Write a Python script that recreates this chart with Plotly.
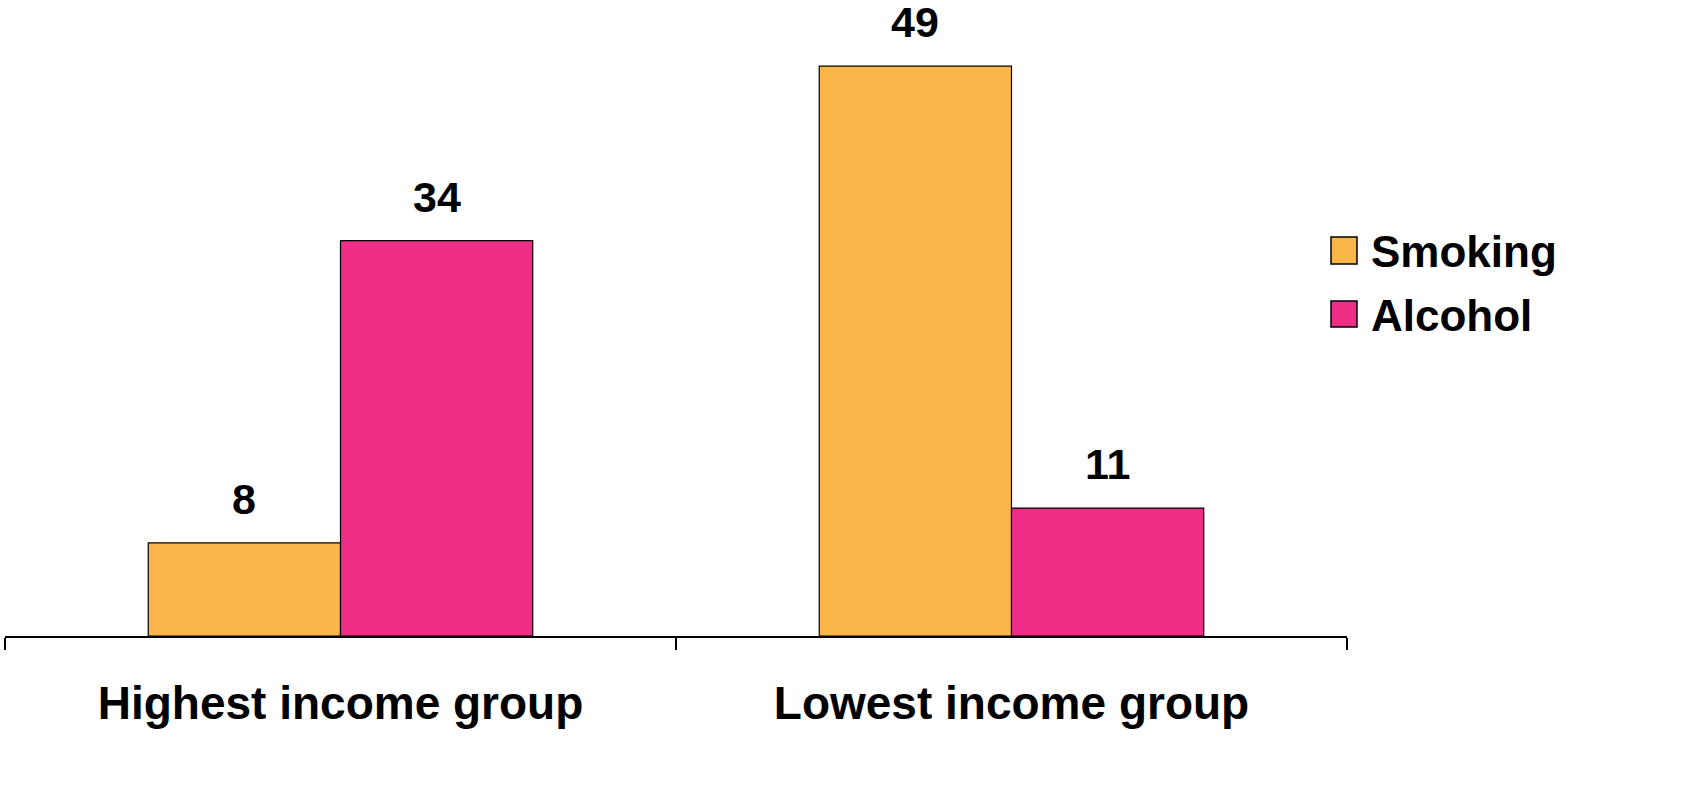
import plotly.graph_objects as go

categories = ["Highest income group", "Lowest income group"]
series_names = ["Smoking", "Alcohol"]
smoking = [8, 49]
alcohol = [34, 11]
colors = ["#FBB64A", "#EE2D87"]

W, H = 1697, 789
L, R, T, B = 5, 350, 20, 153
pw, ph = W - L - R, H - T - B
BARGAP = 0.427
FONT = "Liberation Sans"

fig = go.Figure()
all_vals = [smoking, alcohol]
for name, vals, col in zip(series_names, all_vals, colors):
    fig.add_trace(go.Bar(
        x=categories, y=vals, name=name,
        marker=dict(color=col, line=dict(color="black", width=1.2)),
        showlegend=False, hoverinfo="x+y+name",
    ))

# value labels above bars
cat_px = pw / len(categories)
bar_px = cat_px * (1 - BARGAP) / len(series_names)
for i, vals in enumerate(all_vals):
    off = (i - (len(series_names) - 1) / 2) * bar_px
    for c, v in zip(categories, vals):
        fig.add_annotation(x=c, y=v, xref="x", yref="y", text=str(v), showarrow=False,
                           xanchor="center", yanchor="bottom", xshift=off, yshift=18,
                           font=dict(family=FONT, size=43, color="black", weight="bold"))

def px_x(p):
    return (p - L) / pw

def px_y(p):
    return (H - B - p) / ph

legend_rows = [(237, 264), (301, 327)]
for (y0, y1), name, col in zip(legend_rows, series_names, colors):
    fig.add_shape(type="rect", xref="paper", yref="paper",
                  x0=px_x(1331), x1=px_x(1357), y0=px_y(y1), y1=px_y(y0),
                  fillcolor=col, line=dict(color="black", width=1.5))
    fig.add_annotation(xref="paper", yref="paper", x=px_x(1369), y=px_y((y0 + y1) / 2 + 1),
                       text=name, showarrow=False, xanchor="left", yanchor="middle",
                       font=dict(family=FONT, size=44, color="black", weight="bold"))

fig.update_layout(
    width=W, height=H,
    margin=dict(l=L, r=R, t=T, b=B),
    plot_bgcolor="white", paper_bgcolor="white",
    barmode="group", bargap=BARGAP, bargroupgap=0,
    xaxis=dict(showline=True, linecolor="black", linewidth=1.5,
               ticks="outside", tickson="boundaries", ticklen=12, tickwidth=1.5, tickcolor="black",
               ticklabelstandoff=26,
               tickfont=dict(family=FONT, size=46, color="black", weight="bold"),
               showgrid=False),
    yaxis=dict(range=[0, ph / 11.63], visible=False, showgrid=False, zeroline=False),
)

fig.write_html("out.html", post_script="document.body.style.margin='0';",
               config={"displayModeBar": False})
